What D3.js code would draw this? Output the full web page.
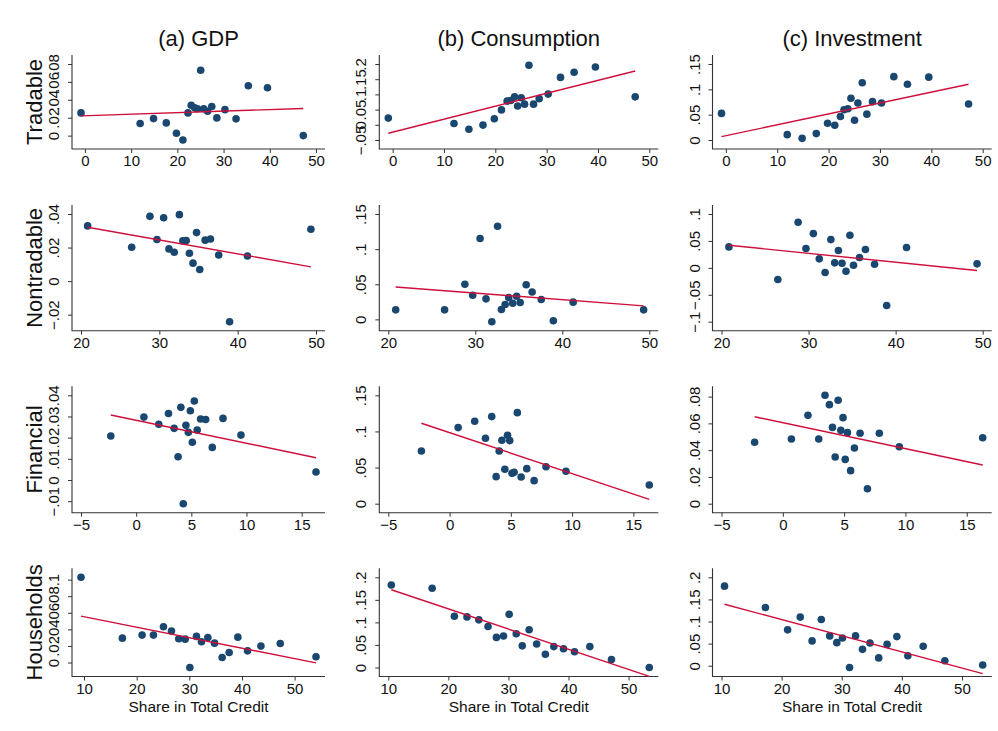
<!DOCTYPE html>
<html>
<head>
<meta charset="utf-8">
<script src="https://d3js.org/d3.v7.min.js"></script>
<style>
  body { margin: 0; background: #fff; }
  svg { display: block; font-family: "Liberation Sans", Arial, Helvetica, sans-serif; }
  .tick line { stroke: #333; }
  .tick text { fill: #111; font-size: 15px; }
</style>
</head>
<body>
<div id="chart"></div>
<script>
const rowNames = ["Tradable", "Nontradable", "Financial", "Households"];
const colTitles = ["(a) GDP", "(b) Consumption", "(c) Investment"];
const xTitle = "Share in Total Credit";

// share in total credit, by sector (the GDP households sample has its own endpoints)
const tradShare = [-0.85, 11.95, 14.85, 17.6, 19.8, 21.2, 22.3, 23.0, 23.75, 24.35, 25.05, 25.7, 26.55, 27.45, 28.55, 30.3, 32.7, 35.35, 39.5, 47.25];
const nontShare = [20.85, 26.47, 28.8, 29.7, 30.55, 31.23, 31.9, 32.56, 33.0, 33.43, 33.84, 34.3, 34.75, 35.16, 35.85, 36.53, 37.58, 38.97, 41.25, 49.35];
const finShare = [-2.3, 0.7, 2.05, 2.93, 3.44, 3.8, 4.05, 4.27, 4.51, 4.73, 4.91, 5.09, 5.27, 5.53, 5.84, 6.3, 6.9, 7.87, 9.5, 16.3];
const hhShare = [10.5, 17.3, 21.0, 23.1, 25.07, 26.6, 28.0, 29.18, 30.12, 31.3, 32.3, 33.45, 34.7, 36.15, 37.55, 39.17, 41.0, 43.55, 47.15, 53.45];
const hhShareGDP = [9.43, 17.29, 21.03, 23.19, 25.09, 26.61, 28.0, 29.21, 30.1, 31.36, 32.31, 33.52, 34.79, 36.24, 37.57, 39.22, 41.06, 43.6, 47.27, 54.06];

// responses (same order as the shares above)
const tradGDP  = [0.0254, 0.0135, 0.019, 0.0142, 0.0026, -0.0049, 0.0254, 0.034, 0.031, 0.030, 0.073, 0.030, 0.0273, 0.0325, 0.0198, 0.029, 0.0187, 0.0557, 0.0535, 0.0];
const tradCons = [0.022, 0.0044, -0.0144, -0.001, 0.020, 0.049, 0.078, 0.080, 0.092, 0.062, 0.089, 0.068, 0.196, 0.068, 0.086, 0.101, 0.156, 0.173, 0.190, 0.092];
const tradInv  = [0.0525, 0.0106, 0.0033, 0.0126, 0.0332, 0.0292, 0.0465, 0.0598, 0.0618, 0.0823, 0.039, 0.073, 0.113, 0.051, 0.0757, 0.073, 0.125, 0.110, 0.124, 0.071];

const nontGDP  = [0.0329, 0.0202, 0.0386, 0.0248, 0.0378, 0.0192, 0.0172, 0.0396, 0.024, 0.0242, 0.0166, 0.0107, 0.0289, 0.0069, 0.0244, 0.0251, 0.0156, -0.0242, 0.015, 0.0309];
const nontCons = [0.0136, 0.0136, 0.0499, 0.0343, 0.1152, 0.0292, -0.0033, 0.1326, 0.0141, 0.0212, 0.031, 0.023, 0.033, 0.024, 0.0494, 0.039, 0.0282, -0.0019, 0.0245, 0.0136];
const nontInv  = [0.0389, -0.0216, 0.0846, 0.0358, 0.0636, 0.0167, -0.0086, 0.0525, 0.0093, 0.0321, 0.0086, -0.0062, 0.0605, 0.0049, 0.0191, 0.034, 0.0068, -0.0698, 0.0377, 0.0074];

const finGDP  = [0.0208, 0.0297, 0.0263, 0.0314, 0.0244, 0.011, 0.0343, -0.0112, 0.0258, 0.0225, 0.0327, 0.0178, 0.0373, 0.0236, 0.0288, 0.0286, 0.0154, 0.0291, 0.0212, 0.0038];
const finCons = [0.0729, 0.1053, 0.114, 0.0905, 0.1205, 0.0374, 0.0729, 0.0877, 0.0476, 0.0947, 0.0873, 0.042, 0.0434, 0.126, 0.0369, 0.0485, 0.0319, 0.0512, 0.0448, 0.0259];
const finInv  = [0.0459, 0.0483, 0.066, 0.0483, 0.081, 0.074, 0.057, 0.0349, 0.0773, 0.0548, 0.0643, 0.0331, 0.0531, 0.0247, 0.0416, 0.0526, 0.0112, 0.0526, 0.0426, 0.0493];

const hhGDP  = [0.1028, 0.0294, 0.0331, 0.0331, 0.0431, 0.0379, 0.0286, 0.0282, -0.006, 0.0315, 0.025, 0.0302, 0.0234, 0.006, 0.0121, 0.0306, 0.0141, 0.0198, 0.023, 0.0069];
const hhCons = [0.183, 0.1756, 0.1138, 0.1122, 0.1057, 0.091, 0.0667, 0.0699, 0.1179, 0.0748, 0.048, 0.0837, 0.052, 0.0293, 0.0463, 0.0415, 0.035, 0.0463, 0.0179, 0.0];
const hhInv  = [0.18, 0.1317, 0.0811, 0.11, 0.0562, 0.1044, 0.0675, 0.0522, 0.0627, -0.004, 0.0675, 0.037, 0.0514, 0.0177, 0.0482, 0.0659, 0.0225, 0.0442, 0.0112, 0.0016];

// fitted values at the smallest and largest share (GDP, Consumption, Investment)
const fitLeft = [
  [0.022, -0.0278, 0.0066],
  [0.0321, 0.0461, 0.042],
  [0.0307, 0.1113, 0.065],
  [0.056, 0.1724, 0.139]
];
const fitRight = [
  [0.0303, 0.177, 0.110],
  [0.0085, 0.0193, -0.0049],
  [0.0105, 0.006, 0.0289],
  [-0.0004, -0.0195, -0.0177]
];

// tick values
const xTicks = [[0, 10, 20, 30, 40, 50], [20, 30, 40, 50], [-5, 0, 5, 10, 15], [10, 20, 30, 40, 50]];
const yTicks = [
  [[0, .02, .04, .06, .08], [-.05, 0, .05, .1, .15, .2], [0, .05, .1, .15]],
  [[-.02, 0, .02, .04], [0, .05, .1, .15], [-.1, -.05, 0, .05, .1]],
  [[-.01, 0, .01, .02, .03, .04], [0, .05, .1, .15], [0, .02, .04, .06, .08]],
  [[0, .02, .04, .06, .08, .1], [0, .05, .1, .15, .2], [0, .05, .1, .15, .2]]
];

const shares = [
  [tradShare, tradShare, tradShare],
  [nontShare, nontShare, nontShare],
  [finShare, finShare, finShare],
  [hhShareGDP, hhShare, hhShare]
];
const responses = [
  [tradGDP, tradCons, tradInv],
  [nontGDP, nontCons, nontInv],
  [finGDP, finCons, finInv],
  [hhGDP, hhCons, hhInv]
];

// layout of the plot regions
const W = 998, H = 731;
const colBox = [[72, 325], [379.3, 658.3], [712.5, 991.7]];
const rowBox = [[55, 149], [205, 330.7], [386.3, 512.7], [568.3, 676.5]];
const pad = 9;
const dotColor = "#1a476f", fitColor = "#cf0f3b";

const fmt = (d) => {
  if (d === 0) return "0";
  let s = String(+Math.abs(d).toFixed(4)).replace(/^0\./, ".");
  return (d < 0 ? "\u2212" : "") + s;
};

const svg = d3.select("#chart").append("svg")
  .attr("width", W).attr("height", H);

colTitles.forEach((t, c) => {
  svg.append("text")
    .attr("x", (colBox[c][0] + colBox[c][1]) / 2)
    .attr("y", 46)
    .attr("text-anchor", "middle")
    .attr("font-size", "22px")
    .attr("fill", "#111")
    .text(t);
});

rowNames.forEach((t, r) => {
  svg.append("text")
    .attr("transform", `translate(42,${(rowBox[r][0] + rowBox[r][1]) / 2}) rotate(-90)`)
    .attr("text-anchor", "middle")
    .attr("font-size", "22px")
    .attr("fill", "#111")
    .text(t);
});

for (let r = 0; r < 4; r++) {
  for (let c = 0; c < 3; c++) {
    let xs = shares[r][c], ys = responses[r][c];
    let [x0, x1] = colBox[c], [y0, y1] = rowBox[r];

    let x = d3.scaleLinear()
      .domain(d3.extent(xs.concat(xTicks[r])))
      .range([x0 + pad, x1 - pad]);
    let y = d3.scaleLinear()
      .domain(d3.extent(ys.concat(yTicks[r][c])))
      .range([y1 - pad, y0 + pad]);

    let g = svg.append("g");

    // x axis
    let gx = g.append("g")
      .attr("transform", `translate(0,${y1})`)
      .call(d3.axisBottom(x).tickValues(xTicks[r]).tickFormat(fmt).tickSize(4).tickSizeOuter(0));
    gx.select(".domain").remove();
    gx.selectAll(".tick text").attr("dy", 0).attr("y", 17);

    // y axis, labels turned like Stata does
    let gy = g.append("g")
      .attr("transform", `translate(${x0},0)`)
      .call(d3.axisLeft(y).tickValues(yTicks[r][c]).tickFormat(fmt).tickSize(4).tickSizeOuter(0));
    gy.select(".domain").remove();
    gy.selectAll(".tick text")
      .attr("transform", "rotate(-90)")
      .attr("x", 0).attr("y", -13).attr("dy", 0)
      .attr("text-anchor", "middle");

    g.append("path")
      .attr("d", `M${x0},${y0}V${y1}H${x1}`)
      .attr("fill", "none")
      .attr("stroke", "#333")
      .attr("stroke-width", 1.1);

    let pts = xs.map((v, i) => [v, ys[i]]);
    g.selectAll(".dot")
      .data(pts)
      .enter().append("circle")
      .attr("class", "dot")
      .attr("r", 3.8)
      .attr("cx", (d) => x(d[0]))
      .attr("cy", (d) => y(d[1]))
      .attr("fill", dotColor);

    let ends = d3.extent(xs);
    let fitPts = [[ends[0], fitLeft[r][c]], [ends[1], fitRight[r][c]]];
    let line = d3.line()
      .x((d) => x(d[0]))
      .y((d) => y(d[1]));
    g.append("path")
      .datum(fitPts)
      .attr("d", line)
      .attr("fill", "none")
      .attr("stroke", fitColor)
      .attr("stroke-width", 1.4);

    if (r === 3) {
      g.append("text")
        .attr("x", (x0 + x1) / 2)
        .attr("y", 712)
        .attr("text-anchor", "middle")
        .attr("font-size", "15.5px")
        .attr("fill", "#111")
        .text(xTitle);
    }
  }
}
</script>
</body>
</html>
